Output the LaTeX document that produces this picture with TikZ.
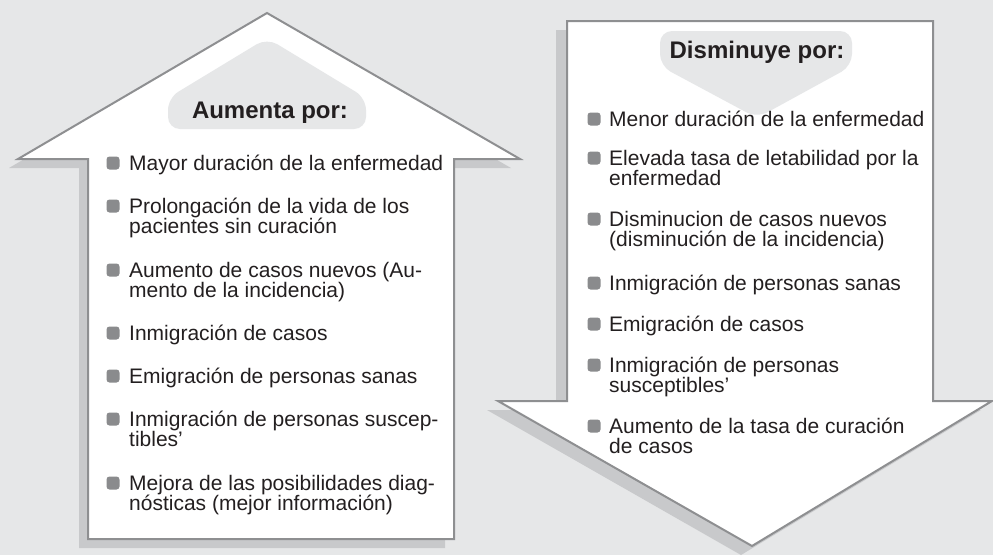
\documentclass[tikz,border=0pt]{standalone}
\usepackage{fontspec}
\setmainfont{Liberation Sans}
\usepackage{tikz}

\definecolor{pagegray}{HTML}{E6E7E8}
\definecolor{edgegray}{HTML}{8E8F91}
\definecolor{shadegray}{HTML}{C8C9CB}
\definecolor{dotgray}{HTML}{8A8B8D}
\definecolor{inkgray}{HTML}{231F20}

\begin{document}
\begin{tikzpicture}[x=1pt,y=-1pt,
  item/.style={anchor=base west,align=left,text=inkgray,font=\fontsize{21}{20}\selectfont},
  dot/.style={fill=dotgray,minimum size=13pt,rounded corners=3pt},
  head/.style={anchor=base,text=inkgray,font=\fontsize{24}{24}\selectfont\bfseries}]
\tikzstyle{every node}+=[inner sep=0pt]
\fill [pagegray] (0,0) rectangle (993,555);
% arrow up
\fill [shadegray, shift={(-9,9)}] (267,13) -- (18,159) -- (88,159) -- (88,539) -- (454,539) -- (454,159) -- (520,159) -- cycle;
\draw [edgegray, line width=2pt, fill=white] (267,13) -- (18,159) -- (88,159) -- (88,539) -- (454,539) -- (454,159) -- (520,159) -- cycle;
\fill [pagegray, rounded corners=12pt] (168,129) -- (168,98) -- (267,38) -- (366,98) -- (366,129) -- cycle;
\node [head] (upHead) at (270,118) {Aumenta por:};
% arrow down
\fill [shadegray, shift={(-11,9)}] (567,21) -- (933,21) -- (933,401) -- (992,401) -- (752,546) -- (498,401) -- (567,401) -- cycle;
\draw [edgegray, line width=2pt, fill=white] (567,21) -- (933,21) -- (933,401) -- (992,401) -- (752,546) -- (498,401) -- (567,401) -- cycle;
\fill [pagegray, rounded corners=12pt] (660,66) -- (660,31) -- (852,31) -- (852,66) -- (757,118) -- cycle;
\node [head] (downHead) at (757,58) {Disminuye por:};
% aumenta (base = last line)
\node [dot] (ud1) at (113,163) {};
\node [item] (ut1) at (129,170) {Mayor duración de la enfermedad};
\node [dot] (ud2) at (113,206) {};
\node [item] (ut2) at (129,233) {Prolongación de la vida de los\\pacientes sin curación};
\node [dot] (ud3) at (113,270) {};
\node [item] (ut3) at (129,297) {Aumento de casos nuevos (Au-\\mento de la incidencia)};
\node [dot] (ud4) at (113,333) {};
\node [item] (ut4) at (129,340) {Inmigración de casos};
\node [dot] (ud5) at (113,376) {};
\node [item] (ut5) at (129,383) {Emigración de personas sanas};
\node [dot] (ud6) at (113,419) {};
\node [item] (ut6) at (129,446) {Inmigración de personas suscep-\\tibles’};
\node [dot] (ud7) at (113,483) {};
\node [item] (ut7) at (129,510) {Mejora de las posibilidades diag-\\nósticas (mejor información)};
% disminuye
\node [dot] (dd1) at (594,119) {};
\node [item] (dt1) at (609,126) {Menor duración de la enfermedad};
\node [dot] (dd2) at (594,158) {};
\node [item] (dt2) at (609,185) {Elevada tasa de letabilidad por la\\enfermedad};
\node [dot] (dd3) at (594,219) {};
\node [item] (dt3) at (609,246) {Disminucion de casos nuevos\\(disminución de la incidencia)};
\node [dot] (dd4) at (594,283) {};
\node [item] (dt4) at (609,290) {Inmigración de personas sanas};
\node [dot] (dd5) at (594,324) {};
\node [item] (dt5) at (609,331) {Emigración de casos};
\node [dot] (dd6) at (594,365) {};
\node [item] (dt6) at (609,392) {Inmigración de personas\\susceptibles’};
\node [dot] (dd7) at (594,426) {};
\node [item] (dt7) at (609,453) {Aumento de la tasa de curación\\de casos};
\end{tikzpicture}
\end{document}
